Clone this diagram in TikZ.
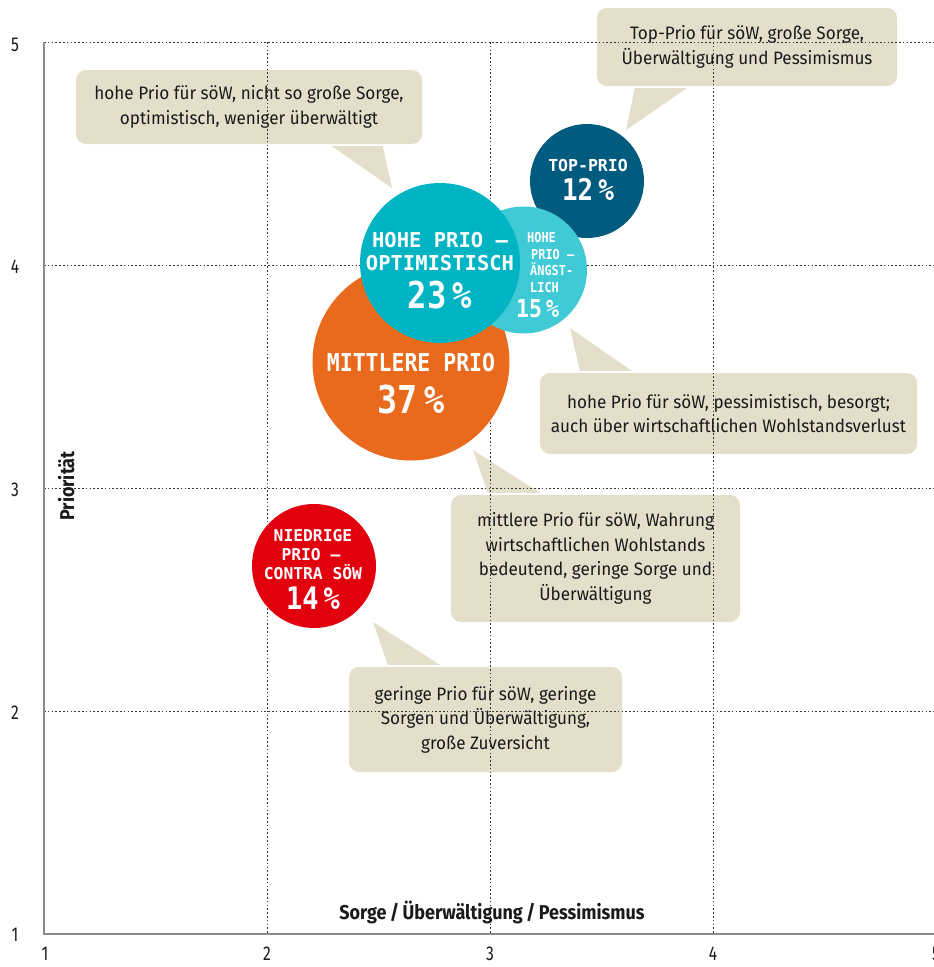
\documentclass[tikz,border=0pt]{standalone}
\usepackage{fontspec}
\setmainfont{Fira Sans}[FakeStretch=0.95]
\newfontfamily\circfont{DejaVu Sans Mono}[FakeStretch=0.87]
\newfontfamily\circfontw{DejaVu Sans Mono}[FakeStretch=1.0]
\newfontfamily\axisfont{Fira Sans}[FakeStretch=0.9]
\newfontfamily\tickfont{Fira Sans}[FakeStretch=0.78]
\usetikzlibrary{calc}
\definecolor{callcol}{HTML}{E3DFCA}
\definecolor{orangecol}{HTML}{E96A1C}
\definecolor{tealcol}{HTML}{00B4C4}
\definecolor{ltealcol}{HTML}{40CAD6}
\definecolor{bluecol}{HTML}{005B7F}
\definecolor{redcol}{HTML}{E2000F}
\definecolor{txtcol}{HTML}{1A1A1A}
\definecolor{gridcol}{HTML}{333333}
\definecolor{axiscol}{HTML}{8C8C8C}
\begin{document}
\begin{tikzpicture}[x=1pt,y=-1pt,
  callout/.style={fill=callcol, rounded corners=10pt, inner sep=0pt, align=center,
    text=txtcol, font=\fontsize{18}{24.5}\selectfont},
  pointer/.style={fill=callcol},
  gridline/.style={draw=gridcol, line width=0.9pt, dash pattern=on 1.6pt off 2.2pt},
  axisline/.style={draw=axiscol, line width=1.6pt},
  bubble/.style={circle, inner sep=0pt, draw=none},
  blab/.style={anchor=base, inner sep=0pt, text=white},
  tick/.style={text=txtcol, font=\tickfont\fontsize{20}{20}\selectfont, inner sep=0pt},
  axtitle/.style={anchor=base, inner sep=0pt, text=txtcol, font=\axisfont\bfseries\fontsize{20}{20}\selectfont}
]
\useasboundingbox (0,0) rectangle (934,967);

% callouts
\node[callout, minimum width=346pt, minimum height=74pt] (c1) at (249,107)
  {hohe Prio für söW, nicht so große Sorge,\\optimistisch, weniger überwältigt};
\coordinate (t1) at (392,188);
\fill[pointer] ($(c1.south west)+(256,2)$) -- (t1) -- ($(c1.south west)+(307,2)$) -- cycle;

\node[callout, minimum width=300pt, minimum height=78pt] (c2) at (747,47)
  {Top-Prio für söW, große Sorge,\\Überwältigung und Pessimismus};
\coordinate (t2) at (626,130);
\fill[pointer] ($(c2.south west)+(38,2)$) -- (t2) -- ($(c2.south west)+(90,2)$) -- cycle;

\node[callout, minimum width=377pt, minimum height=81pt] (c3) at (728.5,413.5)
  {hohe Prio für söW, pessimistisch, besorgt;\\auch über wirtschaftlichen Wohlstandsverlust};
\coordinate (t3) at (570,328);
\fill[pointer] ($(c3.north west)+(40,-2)$) -- (t3) -- ($(c3.north west)+(92,-2)$) -- cycle;

\node[callout, minimum width=289pt, minimum height=127pt] (c4) at (595.5,558.5)
  {mittlere Prio für söW, Wahrung\\wirtschaftlichen Wohlstands\\bedeutend, geringe Sorge und\\Überwältigung};
\coordinate (t4) at (473,450);
\fill[pointer] ($(c4.north west)+(37,-2)$) -- (t4) -- ($(c4.north west)+(89,-2)$) -- cycle;

\node[callout, minimum width=273pt, minimum height=105pt] (c5) at (485.5,719.5)
  {geringe Prio für söW, geringe\\Sorgen und Überwältigung,\\große Zuversicht};
\coordinate (t5) at (373,622);
\fill[pointer] ($(c5.north west)+(39,-2)$) -- (t5) -- ($(c5.north west)+(91,-2)$) -- cycle;

% grid
\foreach \yy in {42,265,488,711} \draw[gridline] (44,\yy) -- (934,\yy);
\foreach \xx in {267,490,713} \draw[gridline] (\xx,42) -- (\xx,934);
% axes
\draw[axisline] (44,42) -- (44,934) -- (934,934);

% ticks
\foreach \v/\yy in {5/45,4/267,3/490,2/713,1/935} \node[tick] at (15,\yy) {\v};
\foreach \v/\xx in {1/45,2/267,3/490,4/713,5/936} \node[tick] at (\xx,954) {\v};

% axis titles
\node[axtitle] (xt) at (492,919.5) {Sorge\,/\,Überwältigung\,/\,Pessimismus};
\node[axtitle, rotate=90] (yt) at (74,486) {Priorität};

% bubbles
\node[bubble, fill=bluecol, minimum size=114pt] (top) at (587,181) {};
\node[bubble, fill=orangecol, minimum size=197pt] (mid) at (411,362) {};
\node[bubble, fill=ltealcol, minimum size=127pt] (angst) at (523.5,270) {};
\node[bubble, fill=tealcol, minimum size=160pt] (opt) at (440,263) {};
\node[bubble, fill=redcol, minimum size=124pt] (low) at (314,566) {};

% bubble texts
\node[blab, font=\circfont\bfseries\fontsize{24.7}{24.7}\selectfont] (midA) at (411,371.5) {MITTLERE PRIO};
\node[blab, font=\circfont\bfseries\fontsize{38.4}{38.4}\selectfont] (midB) at (411,413) {37\,\%};

\node[blab, font=\circfontw\bfseries\fontsize{20.5}{20.5}\selectfont] (optA) at (440,247.3) {HOHE PRIO –};
\node[blab, font=\circfontw\bfseries\fontsize{20.5}{20.5}\selectfont] (optB) at (440,270.8) {OPTIMISTISCH};
\node[blab, font=\circfont\bfseries\fontsize{37}{37}\selectfont] (optC) at (440,308.5) {23\,\%};

\node[blab, anchor=base west, font=\circfont\bfseries\fontsize{13.7}{13.7}\selectfont] (angA) at (527,242) {HOHE};
\node[blab, anchor=base west, font=\circfont\bfseries\fontsize{13.7}{13.7}\selectfont] (angB) at (531,259) {PRIO –};
\node[blab, anchor=base west, font=\circfont\bfseries\fontsize{13.7}{13.7}\selectfont] (angC) at (530,275.5) {ÄNGST-};
\node[blab, anchor=base west, font=\circfont\bfseries\fontsize{13.7}{13.7}\selectfont] (angD) at (530,292) {LICH};
\node[blab, anchor=base west, font=\circfont\bfseries\fontsize{24.7}{24.7}\selectfont] (angE) at (516,317) {15\,\%};

\node[blab, font=\circfontw\bfseries\fontsize{16.5}{16.5}\selectfont] (topA) at (588,171.5) {TOP-PRIO};
\node[blab, font=\circfont\bfseries\fontsize{29.8}{29.8}\selectfont] (topB) at (588,200) {12\,\%};

\node[blab, font=\circfontw\bfseries\fontsize{16.3}{16.3}\selectfont] (lowA) at (313,541.7) {NIEDRIGE};
\node[blab, font=\circfontw\bfseries\fontsize{16.3}{16.3}\selectfont] (lowB) at (311,560) {PRIO –};
\node[blab, font=\circfontw\bfseries\fontsize{16.3}{16.3}\selectfont] (lowC) at (313,579) {CONTRA SÖW};
\node[blab, font=\circfont\bfseries\fontsize{31}{31}\selectfont] (lowD) at (313,609.3) {14\,\%};
\end{tikzpicture}
\end{document}
